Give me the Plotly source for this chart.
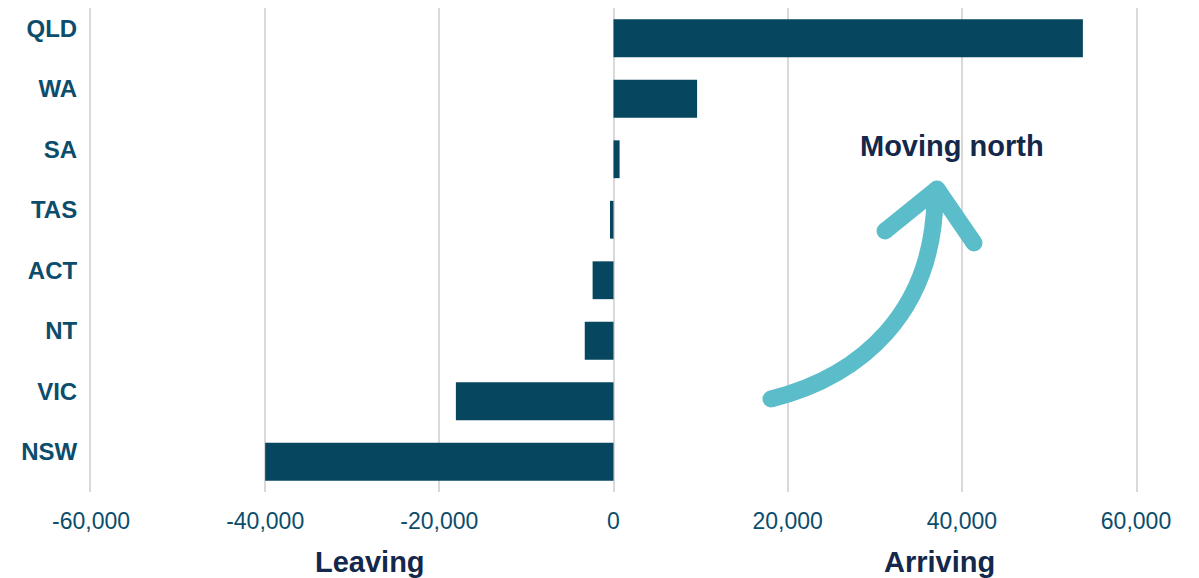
import plotly.graph_objects as go

# ---- data ----
states = ["NSW", "VIC", "NT", "ACT", "TAS", "SA", "WA", "QLD"]
net_migration = [-40000, -18100, -3300, -2400, -400, 700, 9600, 53900]
tick_vals = [-60000, -40000, -20000, 0, 20000, 40000, 60000]
tick_text = ["-60,000", "-40,000", "-20,000", "0", "20,000", "40,000", "60,000"]

BAR = "#06465f"
TICK = "#0b4d6b"
NAVY = "#13284a"
ARROW = "#5bbdc9"
GRID = "#d9d9d9"
FONT = "Arial, Liberation Sans, sans-serif"

OFF = 8  # page offset of the figure (body margin)
W, H = 1191, 570
L, R, T, B = 83, 63, 0, 86
XMIN, XMAX = -60000, 60000
plot_w = W - L - R
plot_h = H - T - B


def xv(px):
    # page pixel -> x data value
    return XMIN + (px - OFF - L) / plot_w * (XMAX - XMIN)


def yp(py):
    # page pixel -> paper y
    return (H - B - (py - OFF)) / plot_h


fig = go.Figure()
fig.add_trace(go.Bar(
    x=net_migration, y=states, orientation="h",
    marker=dict(color=BAR, line=dict(width=0)),
    hoverinfo="x+y",
))

# arrow (decoration), page pixel positions
sw = 17
S = (771, 399)
C1 = (862, 376)
C2 = (933, 312)
E = (935, 198)
TIP = (937, 189)
LFT = (885, 231)
RGT = (974, 243)

shapes = []
path = (f"M {xv(S[0])},{yp(S[1])} C {xv(C1[0])},{yp(C1[1])} "
        f"{xv(C2[0])},{yp(C2[1])} {xv(E[0])},{yp(E[1])} L {xv(TIP[0])},{yp(TIP[1])}")
shapes.append(dict(type="path", path=path, xref="x", yref="paper",
                   line=dict(color=ARROW, width=sw), layer="above"))
for a, b in [(LFT, TIP), (TIP, RGT)]:
    shapes.append(dict(type="line", xref="x", yref="paper",
                       x0=xv(a[0]), y0=yp(a[1]), x1=xv(b[0]), y1=yp(b[1]),
                       line=dict(color=ARROW, width=sw), layer="above"))
for p in [S, TIP, LFT, RGT]:
    r = sw / 2
    shapes.append(dict(type="circle", xref="x", yref="paper",
                       xsizemode="pixel", ysizemode="pixel",
                       xanchor=xv(p[0]), yanchor=yp(p[1]),
                       x0=-r, x1=r, y0=-r, y1=r,
                       fillcolor=ARROW, line=dict(width=0), layer="above"))

annotations = [
    dict(text="<b>Moving north</b>", x=xv(952), y=yp(146), xref="x", yref="paper",
         showarrow=False, font=dict(family=FONT, size=29, color=NAVY),
         xanchor="center", yanchor="middle"),
    dict(text="<b>Leaving</b>", x=xv(370), y=yp(562), xref="x", yref="paper",
         showarrow=False, font=dict(family=FONT, size=29, color=NAVY),
         xanchor="center", yanchor="middle"),
    dict(text="<b>Arriving</b>", x=xv(939), y=yp(562), xref="x", yref="paper",
         showarrow=False, font=dict(family=FONT, size=29, color=NAVY),
         xanchor="center", yanchor="middle"),
]

fig.update_layout(
    width=W, height=H,
    margin=dict(l=L, r=R, t=T, b=B, pad=0),
    plot_bgcolor="white", paper_bgcolor="white",
    bargap=0.375,
    showlegend=False,
    shapes=shapes,
    annotations=annotations,
    xaxis=dict(
        range=[XMIN, XMAX], tickvals=tick_vals, ticktext=tick_text,
        showgrid=True, gridcolor=GRID, gridwidth=2,
        zeroline=True, zerolinecolor=GRID, zerolinewidth=2,
        showline=False, ticks="", ticklabelstandoff=13,
        tickfont=dict(family=FONT, size=23, color=TICK),
        fixedrange=True,
    ),
    yaxis=dict(
        categoryorder="array", categoryarray=states,
        showgrid=False, zeroline=False, ticks="",
        showline=True, linecolor=GRID, linewidth=2, mirror=True,
        ticklabelstandoff=7, ticklabelshift=-10,
        tickfont=dict(family=FONT, size=24, color=TICK, weight="bold"),
        fixedrange=True,
    ),
)

fig.write_html("out.html")
